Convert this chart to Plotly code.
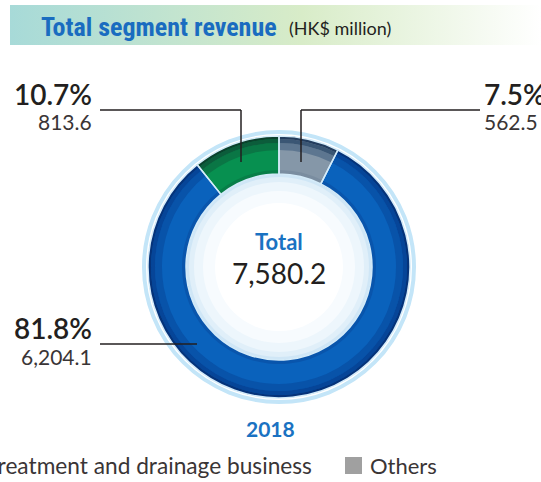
import plotly.graph_objects as go

# ---------------- data ----------------
categories = ["Others", "Sewage treatment and drainage business", "Water supply business"]
values = [562.5, 6204.1, 813.6]
pct_labels = ["7.5%", "81.8%", "10.7%"]
total_value = 7580.2
year_label = "2018"
title_main = "Total segment revenue"
title_unit = "(HK$ million)"
legend_labels = ["Sewage treatment and drainage business", "Others"]

# ---------------- geometry (pixels) ----------------
W, H = 541, 482
CX, CY = 279, 267          # donut centre (from top)
R_OUT, R_IN = 131, 93

def dom(r):
    cyb = H - CY
    return dict(x=[(CX - r) / W, (CX + r) / W], y=[(cyb - r) / H, (cyb + r) / H])

# colour layers: (outer radius, inner radius, colours per category)
layers = [
    (131, 93, ["#8597a8", "#0a62bc", "#079050"]),
    (124, 117, ["#5d7690", "#0853a9", "#0a7645"]),
    (128, 124, ["#3a5674", "#064598", "#0c5c3b"]),
    (131, 128, ["#233d5e", "#05337a", "#0b412d"]),
    (97, 93, ["#7a8da0", "#0955ac", "#087e48"]),
]

fig = go.Figure()

# title band with horizontal gradient (hidden pixel axes)
fig.add_trace(go.Scatter(
    x=[10, 541, 541, 10, 10], y=[5, 5, 45, 45, 5],
    mode="lines", line=dict(width=0), fill="toself",
    fillgradient=dict(type="horizontal",
                      colorscale=[[0, "#a7dad8"], [0.55, "#d8ecc8"], [1, "#ffffff"]]),
    hoverinfo="skip", showlegend=False,
))

for ro, ri, cols in layers:
    fig.add_trace(go.Pie(
        labels=categories, values=values, sort=False, direction="clockwise",
        rotation=0, hole=ri / ro, domain=dom(ro), textinfo="none",
        hoverinfo="skip", marker=dict(colors=cols, line=dict(width=0)),
        showlegend=False,
    ))

# divider overlay
fig.add_trace(go.Pie(
    labels=categories, values=values, sort=False, direction="clockwise",
    rotation=0, hole=R_IN / R_OUT, domain=dom(R_OUT), textinfo="none",
    hoverinfo="skip",
    marker=dict(colors=["rgba(0,0,0,0)"] * 3, line=dict(color="#d4ebf9", width=1.5)),
    showlegend=False,
))

shapes = []
# light outer ring
shapes.append(dict(type="circle", xref="x", yref="y", x0=CX - 135, x1=CX + 135,
                   y0=CY - 135, y1=CY + 135, line=dict(color="#c3e5f8", width=4),
                   layer="below"))
# hole shading
for r, c in [(93, "#cfe6f6"), (90, "#e0eff9"), (85, "#edf6fc"), (76, "#f7fbfe"), (64, "#ffffff")]:
    shapes.append(dict(type="circle", xref="x", yref="y", x0=CX - r, x1=CX + r,
                       y0=CY - r, y1=CY + r, fillcolor=c, line=dict(width=0),
                       layer="below"))
# leader lines
LC = "#231f20"
for (x0, y0, x1, y1) in [(100, 110, 241, 110), (241, 110, 241, 162),
                         (301, 110, 480, 110), (301, 110, 301, 162),
                         (100, 344, 197, 344)]:
    shapes.append(dict(type="line", xref="x", yref="y", x0=x0, y0=y0, x1=x1, y1=y1,
                       line=dict(color=LC, width=1.5), layer="above"))
# legend square for Others
shapes.append(dict(type="rect", xref="x", yref="y", x0=345, x1=362, y0=457, y1=474,
                   fillcolor="#a0a0a0", line=dict(width=0), layer="above"))

BODY = "Lato, 'Open Sans', sans-serif"
DARK = "#231f20"
BLUE = "#1a72c2"

def ann(text, x, y, size, color=DARK, xanchor="center", weight=None, family=BODY):
    f = dict(family=family, size=size, color=color)
    if weight:
        f["weight"] = weight
    return dict(text=text, x=x, y=y, xref="x", yref="y", showarrow=False,
                xanchor=xanchor, yanchor="middle", font=f)

annotations = [
    ann(title_main, 39, 27, 26, color="#1a6cc0", xanchor="left", weight="bold",
        family="'Roboto Condensed', Roboto, sans-serif"),
    ann(title_unit, 287, 28, 18, xanchor="left"),
    # percentage labels
    ann(pct_labels[2], 94, 94, 28, xanchor="right", weight=600),
    ann(f"{values[2]:,.1f}", 94, 121, 21, color="#3a3536", xanchor="right"),
    ann(pct_labels[0], 482, 94, 28, xanchor="left", weight=600),
    ann(f"{values[0]:,.1f}", 482, 121, 21, color="#3a3536", xanchor="left"),
    ann(pct_labels[1], 94, 328, 28, xanchor="right", weight=600),
    ann(f"{values[1]:,.1f}", 94, 356, 21, color="#3a3536", xanchor="right"),
    # centre
    ann("Total", CX, 241, 22, color=BLUE, weight="bold"),
    ann(f"{total_value:,.1f}", CX, 273, 28, color=DARK),
    ann(year_label, 270, 428, 21, color=BLUE, weight="bold"),
    # legend
    ann(legend_labels[0], 314, 465, 22.7, color="#3a3536", xanchor="right"),
    ann(legend_labels[1], 368, 465, 22, color="#3a3536", xanchor="left"),
]

fig.update_layout(
    width=W, height=H, margin=dict(l=0, r=0, t=0, b=0),
    paper_bgcolor="white", plot_bgcolor="rgba(0,0,0,0)", showlegend=False,
    xaxis=dict(range=[0, W], visible=False, fixedrange=True, domain=[0, 1]),
    yaxis=dict(range=[H, 0], visible=False, fixedrange=True, domain=[0, 1]),
    shapes=shapes, annotations=annotations,
)

fig.write_html("out.html", config={"displayModeBar": False},
               post_script="document.body.style.margin='0px';")
